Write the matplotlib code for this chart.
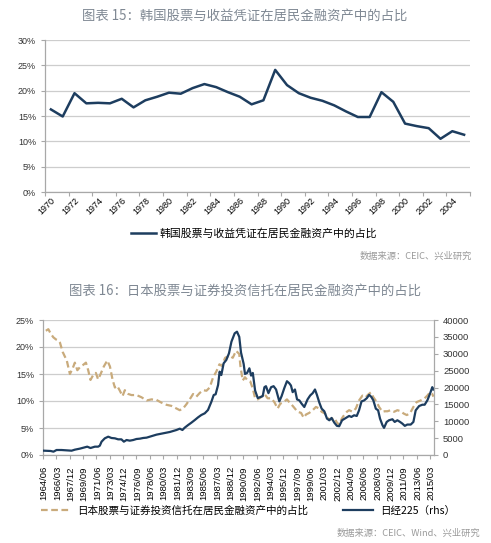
import matplotlib
matplotlib.use('Agg')
import matplotlib.pyplot as plt
from matplotlib.lines import Line2D

plt.rcParams['font.family'] = ['Liberation Sans', 'Noto Sans CJK SC', 'DejaVu Sans']

# ---------------- data: chart 15 (Korea) ----------------
kr_years = list(range(1970, 2006))
kr_vals = [16.3, 14.9, 19.5, 17.5, 17.6, 17.5, 18.4, 16.7, 18.1, 18.8,
           19.6, 19.4, 20.5, 21.3, 20.7, 19.7, 18.8, 17.3, 18.1, 24.1,
           21.1, 19.5, 18.6, 18.0, 17.1, 15.9, 14.8, 14.8, 19.7, 17.8,
           13.5, 13.0, 12.6, 10.5, 12.0, 11.3]
kr_label = '韩国股票与收益凭证在居民金融资产中的占比'

# ---------------- data: chart 16 (Japan) ----------------
# x positions are quarter indices counted from 1964/06
jp_q = [1, 2.3, 3.5, 4.9, 6.3, 7.5, 8.4, 9.8, 11, 11.9,
        13.6, 15, 16.2, 17.5, 19.2, 20.6, 22, 23.2, 24.4, 25.8,
        27.2, 28.4, 29.7, 31.4, 33.2, 34.6, 36, 37.2, 38.4, 39.8,
        41.2, 42.4, 44.2, 45.9, 48.5, 51.1, 53.8, 56.4, 59, 61.6,
        64.2, 66.8, 69.5, 71.2, 72.9, 74.7, 76.4, 78.2, 79.9, 81.7,
        83.4, 85.2, 86.9, 88.7, 90.3, 92, 93.2, 95, 97.2, 99,
        100.7, 102.4, 103, 104.2, 105.4, 106.8, 108.2, 109.5, 110.7, 112.1,
        113.8, 115.6, 117.3, 119.1, 120.8, 122.5, 123.9, 125.7, 127.4, 128.6,
        130.4, 131.6, 133, 134.8, 136.2, 137.4, 139.1, 140.9, 142.6, 144.4,
        145.6, 147.3, 149.1, 150.5, 152.2, 153.6, 154.8, 156.1, 157, 158.8,
        160, 161.8, 163.5, 165.2, 167, 168.7, 170, 171.4, 172.7, 174.5,
        175.7, 177.5, 178.7, 180.1, 181.8, 183.6, 185.3, 187.1, 188.5, 190.2,
        191.9, 193.7, 195.4, 197.5, 199.3, 201, 202.4, 203.6, 204.2]
jp_share = [23.0, 23.3, 22.5, 21.8, 21.4, 21.2, 20.8, 19.1, 18.2, 17.6,
            15.0, 16.0, 17.1, 15.7, 16.4, 16.7, 17.1, 15.7, 13.9, 14.8,
            15.2, 14.0, 15.0, 16.4, 17.5, 16.4, 13.9, 12.5, 12.8, 11.9,
            10.9, 12.0, 11.3, 11.1, 11.1, 10.7, 10.1, 10.3, 10.2, 9.7,
            9.3, 9.1, 8.6, 8.3, 8.6, 9.4, 10.3, 11.3, 10.8, 11.5,
            12.0, 11.9, 12.5, 14.4, 15.4, 16.8, 16.5, 18.0, 18.4, 18.0,
            19.3, 18.7, 16.5, 13.8, 14.4, 13.8, 13.6, 12.3, 10.5, 10.3,
            10.7, 11.3, 10.5, 10.5, 9.8, 8.6, 9.5, 9.8, 10.3, 9.8,
            9.1, 8.6, 8.0, 7.8, 6.9, 7.5, 7.8, 8.3, 8.9, 8.6,
            8.0, 7.7, 6.7, 6.6, 6.9, 6.0, 5.6, 6.7, 7.2, 8.0,
            8.3, 8.0, 8.6, 10.1, 11.0, 10.7, 11.2, 11.6, 10.7, 9.8,
            8.9, 8.0, 8.1, 8.1, 8.3, 8.0, 8.3, 8.1, 7.7, 7.4,
            7.7, 8.9, 9.8, 10.1, 10.4, 11.0, 11.6, 11.3, 10.8]

nk_q = [0, 3.5, 5, 6.6, 9.2, 11.9, 14.5, 16.2, 18.8, 21.5,
        22.7, 24.4, 26.7, 28.4, 29.3, 30.2, 31.9, 33.7, 35.4, 37.2,
        38.9, 40.6, 41.9, 43.3, 45, 46.8, 48.5, 50.3, 52, 53.8,
        55.5, 57.2, 59, 60.7, 62.5, 64.2, 66, 67.7, 69.5, 71.2,
        72.6, 73.8, 75.6, 77.3, 79.1, 80.8, 82.5, 84.3, 86, 87.8,
        89, 90, 91.3, 92.1, 93, 94.2, 95.6, 97, 98.3, 100,
        101.2, 102.4, 103.3, 104.7, 105.4, 106.5, 107.7, 108.6, 109.5, 110.7,
        112.1, 113.5, 114.7, 115.6, 116.4, 117.7, 119.1, 120.4, 121.7, 123.4,
        124.6, 126, 127.4, 128.6, 129.5, 130.4, 131.6, 132.7, 133.9, 135.1,
        136.5, 138.2, 139.6, 140.9, 142.1, 143.1, 144.4, 145.6, 147, 148.4,
        149.6, 150.8, 152.2, 153.6, 154.8, 156.3, 158.3, 160, 161.2, 162.6,
        164, 165.2, 166.5, 167.9, 169.3, 170.5, 171.7, 172.7, 174, 175.2,
        176.2, 177.5, 178.3, 179.7, 180.9, 182.7, 183.9, 185.3, 186.7, 187.9,
        189.2, 190.5, 192.3, 193.7, 194.9, 196.7, 198.4, 199.6, 201, 202.4,
        203.6, 204.2]
nk_vals = [1280, 1190, 990, 1480, 1480, 1380, 1280, 1580, 1880, 2270,
           2470, 2070, 2470, 2470, 2770, 3950, 4940, 5430, 5040, 4940,
           4640, 4640, 3950, 4440, 4250, 4440, 4740, 4840, 5040, 5140,
           5430, 5730, 6030, 6220, 6420, 6620, 6820, 7110, 7410, 7800,
           7410, 8100, 8890, 9580, 10370, 11160, 11850, 12350, 13330, 15800,
           17780, 17980, 20740, 24690, 23700, 27160, 28150, 30120, 33580, 36050,
           36540, 35000, 30400, 27000, 24020, 24300, 25680, 23530, 24310, 19120,
           16860, 17160, 17450, 20100, 20390, 18330, 20100, 20390, 19410, 15880,
           17450, 19800, 21860, 21270, 20590, 18630, 19410, 16470, 16180, 15200,
           14220, 16470, 17650, 18330, 19410, 17840, 15490, 13730, 12940, 10780,
           10290, 10980, 9610, 8630, 8530, 10290, 10980, 11570, 11280, 11770,
           11570, 13240, 15880, 16180, 16860, 17840, 17160, 16180, 13730, 13240,
           10780, 8820, 8040, 9800, 10290, 10590, 9800, 10290, 9800, 9310,
           8630, 9020, 9020, 9800, 13240, 14510, 14900, 14900, 16180, 18140,
           20100, 19400]

jp_ticklabels = ['1964/06', '1966/03', '1967/12', '1969/09', '1971/06', '1973/03',
                 '1974/12', '1976/09', '1978/06', '1980/03', '1981/12', '1983/09',
                 '1985/06', '1987/03', '1988/12', '1990/09', '1992/06', '1994/03',
                 '1995/12', '1997/09', '1999/06', '2001/03', '2002/12', '2004/09',
                 '2006/06', '2008/03', '2009/12', '2011/09', '2013/06', '2015/03']
jp_label = '日本股票与证券投资信托在居民金融资产中的占比'
nk_label = '日经225（rhs）'

title1 = '图表 15：韩国股票与收益凭证在居民金融资产中的占比'
title2 = '图表 16：日本股票与证券投资信托在居民金融资产中的占比'
source1 = '数据来源：CEIC、兴业研究'
source2 = '数据来源：CEIC、Wind、兴业研究'

# ---------------- style ----------------
NAVY = '#1d3d5f'
TAN = '#c9ab7c'
GRID = '#cdcdcd'
SPINE = '#a8a8a8'
TXT = '#333333'
TITLE = '#7f8893'
SRC = '#9a9a9a'
CJK = ['Noto Sans CJK SC', 'DejaVu Sans']

W, H = 491, 543
fig = plt.figure(figsize=(W / 100, H / 100), dpi=100)
fig.patch.set_facecolor('white')


def style_axis(ax):
    for s in ['top', 'right']:
        ax.spines[s].set_visible(False)
    for s in ['left', 'bottom']:
        ax.spines[s].set_color(SPINE)
        ax.spines[s].set_linewidth(0.9)
    ax.grid(axis='y', color=GRID, lw=0.9)
    ax.set_axisbelow(True)
    ax.tick_params(axis='both', colors=SPINE, labelcolor=TXT, length=3, width=0.8)


# ---------------- chart 15 ----------------
ax1 = fig.add_axes([45 / W, 1 - 192 / H, 425 / W, 152 / H])
style_axis(ax1)
x1 = list(range(len(kr_years)))
ax1.plot(x1, kr_vals, color=NAVY, lw=1.8)
ax1.set_xlim(-0.5, len(kr_years) - 0.5)
ax1.set_ylim(0, 30)
ax1.set_yticks(range(0, 31, 5))
ax1.set_yticklabels([f'{v}%' for v in range(0, 31, 5)], fontsize=6.5)
ax1.set_xticks([i - 0.5 for i in range(0, len(kr_years) + 1, 2)])
ax1.set_xticklabels([])
ax1.set_xticks(x1[::2], minor=True)
ax1.set_xticklabels([str(y) for y in kr_years[::2]], minor=True, rotation=45,
                    ha='right', rotation_mode='anchor', fontsize=6.5)
ax1.tick_params(axis='x', which='minor', length=0, pad=3)

fig.legend(handles=[Line2D([], [], color=NAVY, lw=1.8)], labels=[kr_label],
           loc='center', bbox_to_anchor=(254 / W, 1 - 233 / H), frameon=False,
           prop={'family': CJK, 'size': 7.8}, handlelength=2.3, handletextpad=0.3)

fig.text(245 / W, 1 - 16 / H, title1, ha='center', va='center', fontsize=9.6,
         color=TITLE, family=CJK)
fig.text(472 / W, 1 - 256 / H, source1, ha='right', va='center', fontsize=6.7,
         color=SRC, family=CJK)

# ---------------- chart 16 ----------------
ax2 = fig.add_axes([43 / W, 1 - 455 / H, 391 / W, 135 / H])
style_axis(ax2)
ax2.plot(jp_q, jp_share, color=TAN, lw=1.6, ls=(0, (3, 1.6)))
ax2.set_xlim(-0.5, 204.5)
ax2.set_ylim(0, 25)
ax2.set_yticks(range(0, 26, 5))
ax2.set_yticklabels([f'{v}%' for v in range(0, 26, 5)], fontsize=6.5)
n_lab = len(jp_ticklabels)
ax2.set_xticks([7 * k - 0.5 for k in range(n_lab)])
ax2.set_xticklabels([])
ax2.set_xticks([7 * k for k in range(n_lab)], minor=True)
ax2.set_xticklabels(jp_ticklabels, minor=True, rotation=90, fontsize=6.8,
                    ha='center', va='top')
ax2.tick_params(axis='x', which='minor', length=0, pad=8)

ax2r = ax2.twinx()
ax2r.plot(nk_q, nk_vals, color=NAVY, lw=1.6)
ax2r.set_ylim(0, 40000)
ax2r.set_yticks(range(0, 40001, 5000))
ax2r.set_yticklabels([str(v) for v in range(0, 40001, 5000)], fontsize=6.8)
for s in ['top', 'left', 'bottom']:
    ax2r.spines[s].set_visible(False)
ax2r.spines['right'].set_color(SPINE)
ax2r.spines['right'].set_linewidth(0.9)
ax2r.tick_params(axis='y', colors=SPINE, labelcolor=TXT, length=3, width=0.8)

fig.legend(handles=[Line2D([], [], color=TAN, lw=1.6, ls=(0, (3, 1.6))),
                    Line2D([], [], color=NAVY, lw=1.6)],
           labels=[jp_label, nk_label], ncol=2,
           loc='center', bbox_to_anchor=(248 / W, 1 - 511 / H), frameon=False,
           prop={'family': CJK, 'size': 7.6}, handlelength=2.8, handletextpad=0.7,
           columnspacing=3.3)

fig.text(245 / W, 1 - 291 / H, title2, ha='center', va='center', fontsize=9.6,
         color=TITLE, family=CJK)
fig.text(480 / W, 1 - 533 / H, source2, ha='right', va='center', fontsize=6.7,
         color=SRC, family=CJK)

fig.savefig('out.png', dpi=100, facecolor='white')
